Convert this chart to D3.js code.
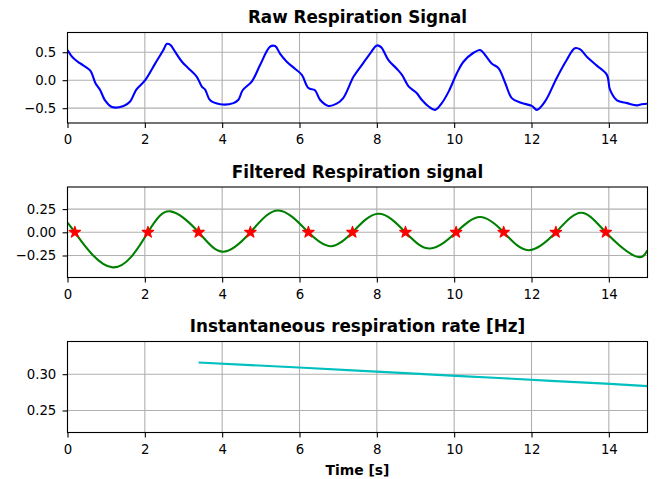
<!DOCTYPE html>
<html>
<head>
<meta charset="utf-8">
<script src="https://cdn.jsdelivr.net/npm/d3@7"></script>
<style>
  html, body { margin: 0; padding: 0; background: #fff; }
  svg { display: block; font-family: "DejaVu Sans", sans-serif; }
</style>
</head>
<body>
<svg id="chart" width="664" height="479"></svg>
<script>
// ---------- data ----------
const titles = ["Raw Respiration Signal", "Filtered Respiration signal", "Instantaneous respiration rate [Hz]"];
const xLabel = "Time [s]";
const xTicks = [0, 2, 4, 6, 8, 10, 12, 14];

const rawT = [0, 0.155, 0.33, 0.59, 0.72, 0.84, 0.97, 1.15, 1.45, 1.62, 1.78, 2.01, 2.27, 2.48, 2.57, 2.66, 2.78, 2.96, 3.13, 3.34, 3.47, 3.56, 3.69, 3.95, 4.29, 4.42, 4.53, 4.77, 4.98, 5.24, 5.37, 5.50, 5.67, 5.89, 6.06, 6.23, 6.40, 6.53, 6.75, 6.96, 7.13, 7.40, 7.61, 7.83, 8.00, 8.11, 8.30, 8.52, 8.65, 8.82, 9.03, 9.16, 9.34, 9.51, 9.68, 9.86, 10.07, 10.24, 10.50, 10.67, 10.80, 10.97, 11.15, 11.32, 11.49, 11.71, 12.01, 12.14, 12.35, 12.65, 12.91, 13.12, 13.26, 13.43, 13.69, 13.95, 14.03, 14.21, 14.47, 14.72, 14.85, 15.0];
const rawV = [0.54, 0.39, 0.30, 0.17, -0.05, -0.17, -0.36, -0.48, -0.46, -0.38, -0.17, 0.0, 0.30, 0.54, 0.65, 0.63, 0.51, 0.33, 0.21, 0.065, -0.11, -0.17, -0.36, -0.43, -0.41, -0.35, -0.18, -0.02, 0.27, 0.60, 0.61, 0.47, 0.33, 0.20, 0.095, -0.14, -0.18, -0.35, -0.46, -0.42, -0.32, 0.065, 0.27, 0.48, 0.62, 0.59, 0.36, 0.20, 0.095, -0.11, -0.23, -0.35, -0.47, -0.53, -0.41, -0.20, 0.125, 0.33, 0.49, 0.54, 0.45, 0.30, 0.21, -0.05, -0.32, -0.40, -0.46, -0.53, -0.38, 0.036, 0.36, 0.57, 0.55, 0.42, 0.26, 0.095, -0.17, -0.36, -0.41, -0.45, -0.43, -0.42];
const rawYTicks = [-0.5, 0.0, 0.5];

const filtT = [0, 0.19, 1.17, 2.08, 2.67, 3.39, 4.02, 4.73, 5.46, 6.23, 6.82, 7.37, 8.04, 8.74, 9.38, 10.05, 10.67, 11.28, 11.92, 12.63, 13.28, 13.92, 14.68, 15];
const filtV = [0.093, 0.0, -0.378, 0.0, 0.225, 0.0, -0.21, 0.0, 0.235, 0.0, -0.15, 0.0, 0.20, 0.0, -0.175, 0.0, 0.164, 0.0, -0.193, 0.0, 0.211, 0.0, -0.257, -0.193];
const crossT = [0.19, 2.08, 3.39, 4.73, 6.23, 7.37, 8.74, 10.05, 11.28, 12.63, 13.92];
const crossV = [0, 0, 0, 0, 0, 0, 0, 0, 0, 0, 0];
const filtYTicks = [-0.25, 0.0, 0.25];

const rateT = [3.39, 4.73, 6.23, 7.37, 8.74, 10.05, 11.28, 12.63, 13.92, 15];
const rateV = [0.316, 0.3125, 0.3085, 0.3053, 0.3015, 0.2977, 0.2943, 0.2905, 0.2870, 0.2835];
const rateYTicks = [0.25, 0.30];

// ---------- layout ----------
const svg = d3.select("#chart");
const left = 67.5, right = 647.5;
const panels = [
  { top: 32.5, bottom: 123, yDomain: [-0.765, 0.852], yTicks: rawYTicks, fmt: d3.format(".1f") },
  { top: 187, bottom: 277.5, yDomain: [-0.487, 0.488], yTicks: filtYTicks, fmt: d3.format(".2f") },
  { top: 341.5, bottom: 432.5, yDomain: [0.2197, 0.345], yTicks: rateYTicks, fmt: d3.format(".2f") }
];

const x = d3.scaleLinear().domain([0, 15]).range([left, right]);
const tickLen = 4.9, xPad = 6.7, yPad = 6.3;
const gridColor = "#b0b0b0";
const minusFmt = f => (v => f(v).replace("-", "\u2212"));

panels.forEach((p, i) => {
  p.y = d3.scaleLinear().domain(p.yDomain).range([p.bottom, p.top]);
  const g = svg.append("g");
  const clipId = "clip" + i;
  svg.append("clipPath").attr("id", clipId)
    .append("rect").attr("x", left).attr("y", p.top).attr("width", right - left).attr("height", p.bottom - p.top);
  p.g = g;
  p.clip = `url(#${clipId})`;

  // grid
  g.append("g").selectAll("line").data(xTicks).join("line")
    .attr("x1", d => x(d)).attr("x2", d => x(d)).attr("y1", p.top).attr("y2", p.bottom)
    .attr("stroke", gridColor).attr("stroke-width", 1.1);
  g.append("g").selectAll("line").data(p.yTicks).join("line")
    .attr("y1", d => p.y(d)).attr("y2", d => p.y(d)).attr("x1", left).attr("x2", right)
    .attr("stroke", gridColor).attr("stroke-width", 1.1);

  p.layer = g.append("g").attr("clip-path", p.clip);

  // axes
  const xa = d3.axisBottom(x).tickValues(xTicks).tickSize(tickLen).tickPadding(xPad).tickFormat(d3.format("d"));
  const ya = d3.axisLeft(p.y).tickValues(p.yTicks).tickSize(tickLen).tickPadding(yPad).tickFormat(minusFmt(p.fmt));
  const gx = g.append("g").attr("transform", `translate(0,${p.bottom})`).call(xa);
  const gy = g.append("g").attr("transform", `translate(${left},0)`).call(ya);
  [gx, gy].forEach(a => {
    a.select(".domain").remove();
    a.selectAll("text").attr("font-size", 13.3).attr("font-family", "DejaVu Sans").attr("fill", "#000");
    a.selectAll("line").attr("stroke", "#000").attr("stroke-width", 1.1);
  });

  // frame
  g.append("rect").attr("x", left).attr("y", p.top).attr("width", right - left).attr("height", p.bottom - p.top)
    .attr("fill", "none").attr("stroke", "#000").attr("stroke-width", 1.1);

  // title
  svg.append("text").attr("x", (left + right) / 2).attr("y", p.top - 9.3)
    .attr("text-anchor", "middle").attr("font-size", 16.8).attr("font-weight", "bold")
    .attr("font-family", "DejaVu Sans").text(titles[i]);
});

// ---------- marks ----------
const mk = (ts, vs) => ts.map((t, k) => [t, vs[k]]);

const p0 = panels[0];
p0.layer.append("path").datum(mk(rawT, rawV))
  .attr("d", d3.line().x(d => x(d[0])).y(d => p0.y(d[1])).curve(d3.curveCatmullRom.alpha(0.5)))
  .attr("fill", "none").attr("stroke", "#0000ff").attr("stroke-width", 2.1).attr("stroke-linejoin", "round");

const p1 = panels[1];
p1.layer.append("path").datum(mk(filtT, filtV))
  .attr("d", d3.line().x(d => x(d[0])).y(d => p1.y(d[1])).curve(d3.curveNatural))
  .attr("fill", "none").attr("stroke", "#008000").attr("stroke-width", 2.1);
p1.g.append("g").selectAll("path").data(mk(crossT, crossV)).join("path")
  .attr("transform", d => `translate(${x(d[0])},${p1.y(d[1])})`)
  .attr("d", d3.symbol().type(d3.symbolStar).size(40))
  .attr("fill", "#ff0000").attr("stroke", "#ff0000").attr("stroke-width", 1.2).attr("stroke-linejoin", "round");

const p2 = panels[2];
p2.layer.append("path").datum(mk(rateT, rateV))
  .attr("d", d3.line().x(d => x(d[0])).y(d => p2.y(d[1])))
  .attr("fill", "none").attr("stroke", "#00bfbf").attr("stroke-width", 2.1);

svg.append("text").attr("x", (left + right) / 2).attr("y", 474.5)
  .attr("text-anchor", "middle").attr("font-size", 13.9).attr("font-weight", "bold")
  .attr("font-family", "DejaVu Sans").text(xLabel);
</script>
</body>
</html>
